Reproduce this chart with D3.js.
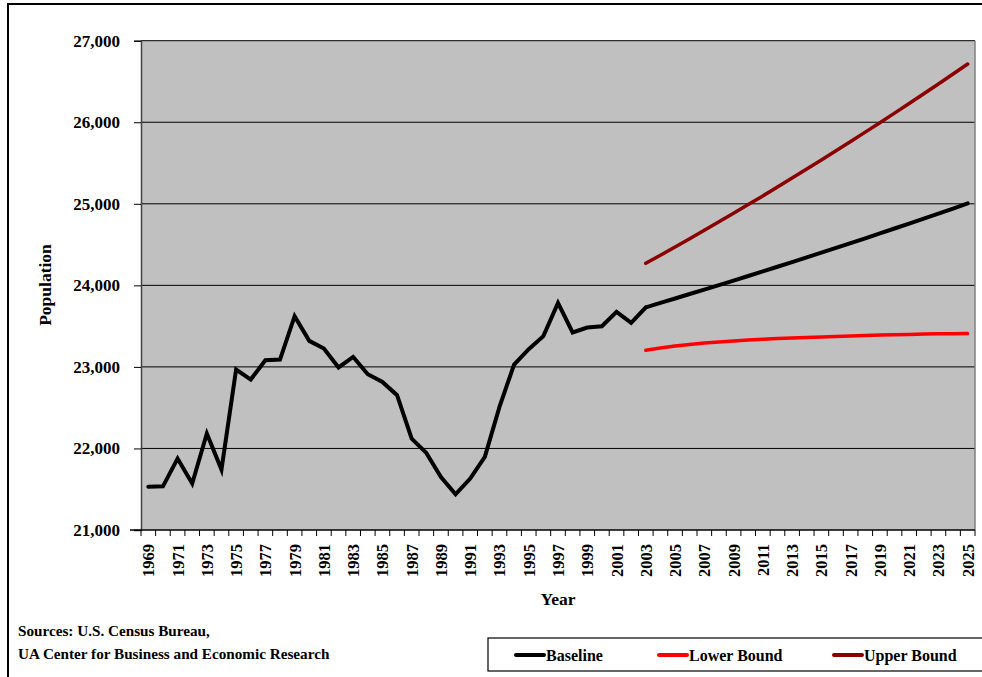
<!DOCTYPE html>
<html>
<head>
<meta charset="utf-8">
<script src="https://cdn.jsdelivr.net/npm/d3@7/dist/d3.min.js"></script>
<style>
  html, body { margin: 0; padding: 0; background: #ffffff; }
  svg { display: block; }
  text { font-family: "Liberation Serif", "DejaVu Serif", serif; font-weight: bold; fill: #000; }
</style>
</head>
<body>
<svg id="chart" width="982" height="677"></svg>
<script>
// ---- Data ----
const years = d3.range(1969, 2026).map(String);
const histYears = d3.range(1969, 2004).map(String);
const histValues = [21530, 21535, 21876, 21569, 22183, 21741, 22968, 22845, 23082, 23090,
  23622, 23319, 23226, 22993, 23123, 22910, 22816, 22653, 22121, 21945,
  21650, 21438, 21631, 21896, 22509, 23029, 23217, 23377, 23785, 23422,
  23483, 23499, 23675, 23540, 23730];
const projYears = d3.range(2003, 2026).map(String);
const baselineProj = [23730, 23785, 23839, 23894, 23948, 24003, 24059, 24115, 24171, 24228,
  24285, 24343, 24401, 24459, 24518, 24577, 24637, 24697, 24758, 24819, 24880, 24942, 25005];
const lowerBound = [23205, 23232, 23255, 23275, 23292, 23306, 23318, 23329, 23339, 23347,
  23355, 23362, 23368, 23374, 23380, 23385, 23390, 23394, 23398, 23402, 23405, 23408, 23411];
const upperBound = [24270, 24369, 24470, 24572, 24675, 24779, 24884, 24990, 25097, 25206,
  25315, 25426, 25537, 25650, 25764, 25879, 25995, 26112, 26230, 26350, 26470, 26591, 26714];
const yTicks = [21000, 22000, 23000, 24000, 25000, 26000, 27000];
const seriesNames = ["Baseline", "Lower Bound", "Upper Bound"];
const seriesColors = ["#000000", "#ff0000", "#8b0000"];
const sourceLines = ["Sources: U.S. Census Bureau,", "UA Center for Business and Economic Research"];

(function () {
// ---- Layout ----
const svg = d3.select("#chart");
const pLeft = 141, pRight = 975, pTop = 40.7, pBottom = 530;

// outer frame
svg.append("rect").attr("x", 8).attr("y", 4).attr("width", 990).attr("height", 700)
  .attr("fill", "none").attr("stroke", "#000").attr("stroke-width", 2);

const x = d3.scaleBand().domain(years).range([pLeft, pRight]).padding(0);
const y = d3.scaleLinear().domain([21000, 27000]).range([pBottom, pTop]);

// plot background
svg.append("rect").attr("x", pLeft).attr("y", pTop).attr("width", pRight - pLeft).attr("height", pBottom - pTop)
  .attr("fill", "#c0c0c0");

// gridlines
svg.append("g").selectAll("line").data(yTicks.filter(t => t > 21000)).join("line")
  .attr("x1", pLeft).attr("x2", pRight).attr("y1", d => y(d)).attr("y2", d => y(d))
  .attr("stroke", "#000").attr("stroke-width", 1);

// right plot border
svg.append("line").attr("x1", pRight).attr("x2", pRight).attr("y1", pTop).attr("y2", pBottom)
  .attr("stroke", "#808080").attr("stroke-width", 1.5);

// Y axis
const yAxis = d3.axisLeft(y).tickValues(yTicks).tickFormat(d3.format(",")).tickSize(7).tickPadding(14);
const gy = svg.append("g").attr("transform", `translate(${pLeft},0)`).call(yAxis);
gy.select(".domain").attr("stroke", "#404040").attr("stroke-width", 1.5);
gy.selectAll(".tick line").attr("stroke", "#000");
gy.selectAll("text").attr("font-size", 17).attr("font-family", "Liberation Serif").attr("font-weight", "bold").attr("fill", "#000");

// X axis: ticks at category boundaries
const gx = svg.append("g");
gx.append("line").attr("x1", pLeft - 11).attr("x2", pRight).attr("y1", pBottom).attr("y2", pBottom)
  .attr("stroke", "#000").attr("stroke-width", 1.5);
gx.selectAll("line.tk").data(years.concat(["end"])).join("line").attr("class", "tk")
  .attr("x1", (d, i) => i < years.length ? x(d) : pRight)
  .attr("x2", (d, i) => i < years.length ? x(d) : pRight)
  .attr("y1", pBottom).attr("y2", pBottom + 6).attr("stroke", "#000").attr("stroke-width", 1);
gx.selectAll("text").data(years.filter((d, i) => i % 2 === 0)).join("text")
  .attr("transform", d => `translate(${x(d) + x.bandwidth() / 2 + 6},${pBottom + 14}) rotate(-90)`)
  .attr("text-anchor", "end").attr("font-size", 16.5).text(d => d);

// axis titles
svg.append("text").attr("x", 558).attr("y", 605).attr("text-anchor", "middle").attr("font-size", 17.5).text("Year");
svg.append("text").attr("transform", "translate(51,285) rotate(-90)").attr("text-anchor", "middle")
  .attr("font-size", 17.5).text("Population");

// lines
const cx = d => x(d) + x.bandwidth() / 2;
const line = d3.line().x(d => cx(d[0])).y(d => y(d[1]));
const plotLines = [
  { pts: histYears.map((yr, i) => [yr, histValues[i]]), color: seriesColors[0], w: 4 },
  { pts: projYears.map((yr, i) => [yr, baselineProj[i]]), color: seriesColors[0], w: 4 },
  { pts: projYears.map((yr, i) => [yr, lowerBound[i]]), color: seriesColors[1], w: 3.5 },
  { pts: projYears.map((yr, i) => [yr, upperBound[i]]), color: seriesColors[2], w: 3.5 }
];
svg.append("g").selectAll("path").data(plotLines).join("path")
  .attr("d", d => line(d.pts)).attr("fill", "none").attr("stroke", d => d.color)
  .attr("stroke-width", d => d.w).attr("stroke-linejoin", "miter").attr("stroke-linecap", "round");

// sources
svg.append("g").selectAll("text").data(sourceLines).join("text")
  .attr("x", 18).attr("y", (d, i) => 636 + i * 23).attr("font-size", 15.2).text(d => d);

// legend
svg.append("rect").attr("x", 488).attr("y", 638).attr("width", 500).attr("height", 33)
  .attr("fill", "#fff").attr("stroke", "#000").attr("stroke-width", 1.2);
const legX = [516, 659, 834];
const lg = svg.append("g").selectAll("g").data(seriesNames).join("g")
  .attr("transform", (d, i) => `translate(${legX[i]},655)`);
lg.append("line").attr("x1", 0).attr("x2", 28).attr("y1", 0).attr("y2", 0)
  .attr("stroke", (d, i) => seriesColors[i]).attr("stroke-width", 4).attr("stroke-linecap", "round");
lg.append("text").attr("x", 30).attr("y", 5.5).attr("font-size", 16).text(d => d);
})();
</script>
</body>
</html>
